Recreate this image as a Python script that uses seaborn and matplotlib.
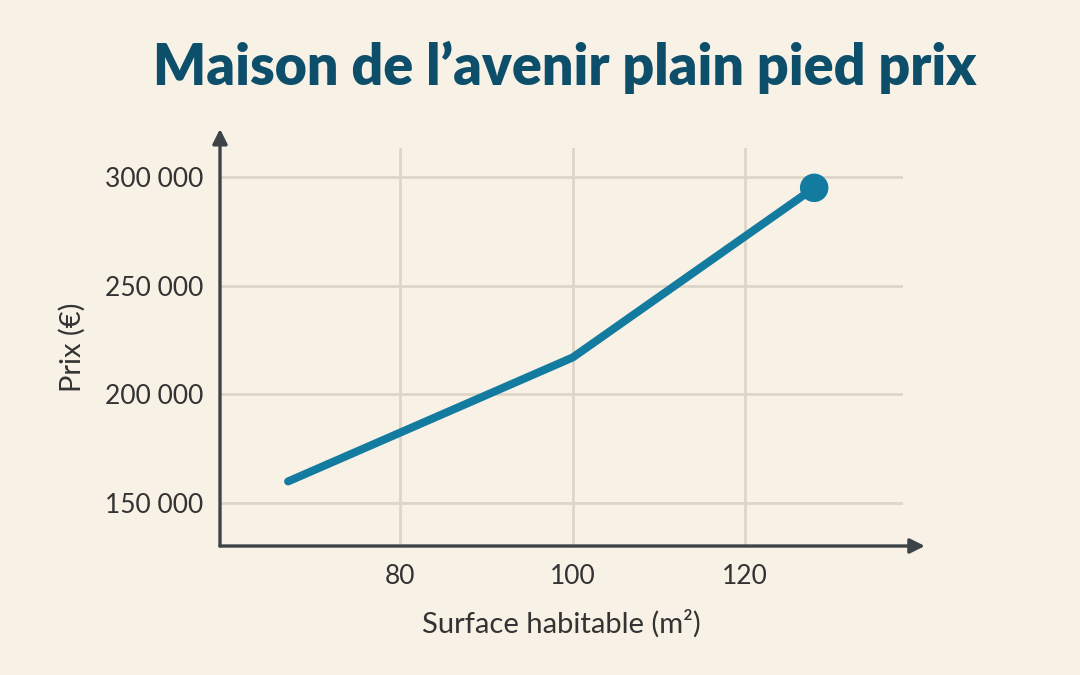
"""
Maison de l'avenir plain pied - prix selon la surface
Output: out.png
"""

import matplotlib.pyplot as plt
import matplotlib.ticker as mticker
import pandas as pd
import seaborn as sns

BG = '#F8F1E5'
GRID = '#DDD5C8'
AXIS = '#3D4449'
TEXT = '#333333'
TITLE = '#0D4F6B'
LINE = '#137BA0'

# Data
surface = [67, 100, 128]
prix = [160000, 217000, 295000]
x_ticks = [80, 100, 120]
y_ticks = [150000, 200000, 250000, 300000]

sns.set_theme(style='white')
plt.rcParams['font.family'] = ['Lato', 'DejaVu Sans']


def fmt_space(v, _pos):
    return f"{v:,.0f}".replace(',', ' ')


def create_chart():
    df = pd.DataFrame({'surface': surface, 'prix': prix})

    fig = plt.figure(figsize=(10.8, 6.75), dpi=100, facecolor=BG)
    ax = fig.add_axes([0.2037, 0.1911, 0.6324, 0.5896])
    ax.set_facecolor(BG)

    sns.lineplot(data=df, x='surface', y='prix', ax=ax, color=LINE,
                 linewidth=5.8, solid_capstyle='round', zorder=3)
    sns.scatterplot(data=df.iloc[[-1]], x='surface', y='prix', ax=ax,
                    color=LINE, s=420, edgecolor='none', zorder=4)

    ax.set_xlim(59.1, 138.3)
    ax.set_ylim(130300, 313300)
    ax.set_xticks(x_ticks)
    ax.set_yticks(y_ticks)
    ax.yaxis.set_major_formatter(mticker.FuncFormatter(fmt_space))

    ax.grid(True, color=GRID, linewidth=2)
    ax.set_axisbelow(True)
    for s in ax.spines.values():
        s.set_visible(False)

    ax.tick_params(axis='both', length=0, labelsize=19, labelcolor=TEXT)
    ax.tick_params(axis='y', pad=12)
    ax.tick_params(axis='x', pad=13)

    # axis arrows
    arrow = dict(arrowstyle='-|>', lw=2.4, color=AXIS, mutation_scale=22,
                 shrinkA=0, shrinkB=0)
    ax.annotate('', xy=(1.032, 0), xytext=(0, 0), xycoords='axes fraction',
                arrowprops=arrow, annotation_clip=False)
    ax.annotate('', xy=(0, 1.048), xytext=(0, 0), xycoords='axes fraction',
                arrowprops=arrow, annotation_clip=False)

    ax.set_xlabel('Surface habitable (m²)', fontsize=21, color=TEXT, labelpad=15)
    ax.set_ylabel('Prix (€)', fontsize=21, color=TEXT, labelpad=14)

    fig.text(0.523, 0.9, "Maison de l’avenir plain pied prix", fontsize=40,
             fontweight='heavy', color=TITLE, ha='center', va='center')

    fig.savefig('out.png', dpi=100, facecolor=BG)
    plt.close(fig)


if __name__ == '__main__':
    create_chart()
